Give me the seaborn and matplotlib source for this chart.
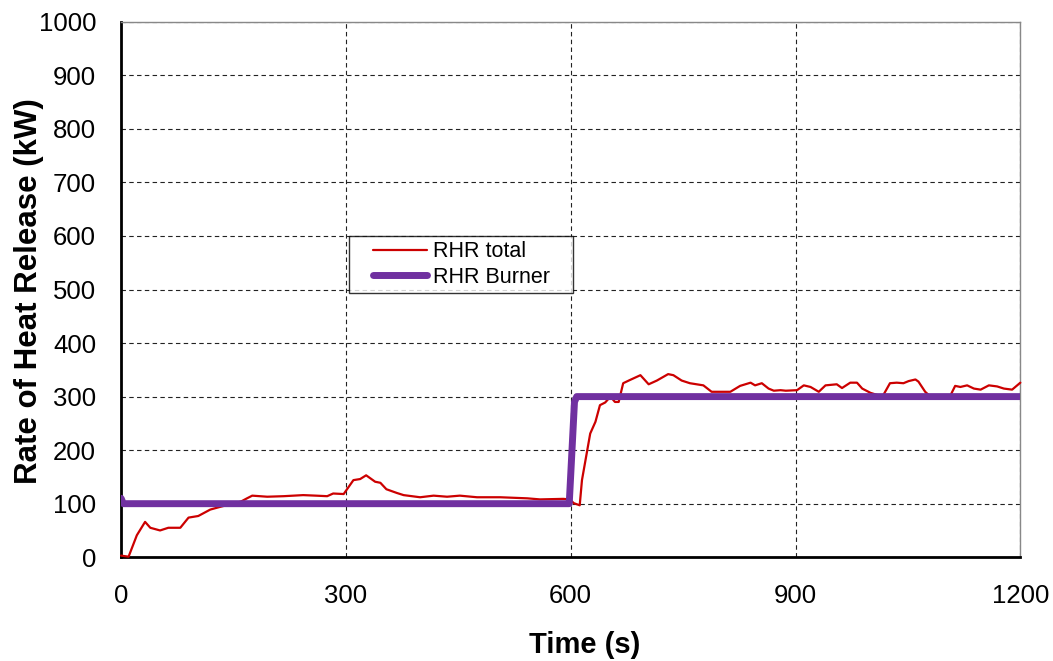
import matplotlib
matplotlib.use("Agg")
import matplotlib.pyplot as plt
from matplotlib.legend_handler import HandlerLine2D
from matplotlib.ticker import MultipleLocator
import pandas as pd
import seaborn as sns

sns.set_theme(style="white")
plt.rcParams["font.family"] = ["Liberation Sans", "DejaVu Sans"]
plt.rcParams["text.color"] = "black"

# RHR total (red)
time_total = [0, 10, 21, 32, 39, 52, 63, 79, 90, 103, 119, 132, 146, 160, 168,
              175, 195, 217, 243, 260, 275, 283, 297, 310, 319, 327, 339, 346,
              354, 368, 377, 399, 417, 435, 452, 475, 506, 542, 559, 590, 599,
              604, 612, 615, 626, 633, 639, 646, 653, 659, 664, 670, 679, 693,
              704, 715, 730, 737, 748, 759, 777, 788, 799, 813, 826, 840, 846,
              855, 864, 871, 880, 887, 902, 911, 920, 931, 940, 955, 962, 973,
              982, 989, 1000, 1016, 1026, 1035, 1044, 1051, 1060, 1064, 1073,
              1080, 1107, 1113, 1120, 1129, 1138, 1147, 1158, 1169, 1178, 1189,
              1200]
rhr_total = [3, 1, 41, 66, 55, 50, 55, 55, 74, 77, 89, 94, 99, 104, 110,
             115, 113, 114, 116, 115, 114, 119, 118, 144, 146, 153, 141, 139,
             127, 120, 116, 112, 115, 113, 115, 112, 112, 110, 108, 109, 108,
             101, 97, 144, 231, 253, 284, 289, 300, 290, 290, 325, 331, 340,
             323, 330, 342, 340, 330, 325, 321, 309, 309, 309, 320, 326, 321,
             325, 315, 311, 312, 311, 312, 321, 318, 309, 321, 323, 316, 326,
             326, 315, 307, 300, 325, 326, 325, 329, 332, 328, 309,
             300, 303, 320, 318, 321, 315, 313, 321, 319, 315, 313,
             326]

# RHR Burner (purple)
time_burner = [0, 3, 598, 605, 608, 1200]
rhr_burner = [110, 100, 100, 290, 300, 300]

x_ticks = [0, 300, 600, 900, 1200]
y_ticks = list(range(0, 1001, 100))

df_total = pd.DataFrame({"time": time_total, "rhr": rhr_total})
df_burner = pd.DataFrame({"time": time_burner, "rhr": rhr_burner})

fig = plt.figure(figsize=(10.53, 6.61), dpi=100)
ax = fig.add_axes([0.115, 0.157, 0.854, 0.81])

sns.lineplot(data=df_total, x="time", y="rhr", ax=ax, color="#CC0000",
             linewidth=1.6, estimator=None, label="RHR total", clip_on=False,
             zorder=3)
sns.lineplot(data=df_burner, x="time", y="rhr", ax=ax, color="#7030A0",
             linewidth=5, estimator=None, label="RHR Burner   ",
             solid_capstyle="round", solid_joinstyle="round", zorder=3)

ax.set_xlim(0, 1200)
ax.set_ylim(0, 1000)
ax.set_xticks(x_ticks)
ax.set_yticks(y_ticks)
ax.xaxis.set_minor_locator(MultipleLocator(60))

ax.grid(True, which="major", color="#222222", linestyle=(0, (4, 3)),
        linewidth=0.8)
ax.set_axisbelow(True)

for side in ["left", "bottom"]:
    ax.spines[side].set_color("black")
    ax.spines[side].set_linewidth(2)
for side in ["top", "right"]:
    ax.spines[side].set_color("#888888")
    ax.spines[side].set_linewidth(1)

ax.tick_params(axis="both", which="major", direction="in", length=5,
               width=2, color="black", labelsize=18.5, labelcolor="black")
ax.tick_params(axis="y", which="major", pad=18)
ax.tick_params(axis="x", which="major", pad=19)
ax.tick_params(axis="x", which="minor", direction="in", length=5,
               width=2, color="black")

ax.set_xlabel("Time (s)", fontsize=21, fontweight="bold", color="black")
ax.xaxis.set_label_coords(0.516, -0.137)
ax.set_ylabel("Rate of Heat Release (kW)", fontsize=22.5, fontweight="bold",
              color="black")
ax.yaxis.set_label_coords(-0.086, 0.497)

fs = 15.5
leg = ax.legend(loc="upper left", bbox_to_anchor=(0.253, 0.6), fontsize=fs,
                frameon=True, fancybox=False, handlelength=3.4,
                borderpad=0.25, labelspacing=0.2, handletextpad=0.25,
                borderaxespad=0, handler_map={
                    matplotlib.lines.Line2D: HandlerLine2D(xpad=0.9)})
leg.get_frame().set_edgecolor("black")
leg.get_frame().set_linewidth(1)
for txt in leg.get_texts():
    txt.set_color("black")

fig.savefig("out.png", dpi=100)
